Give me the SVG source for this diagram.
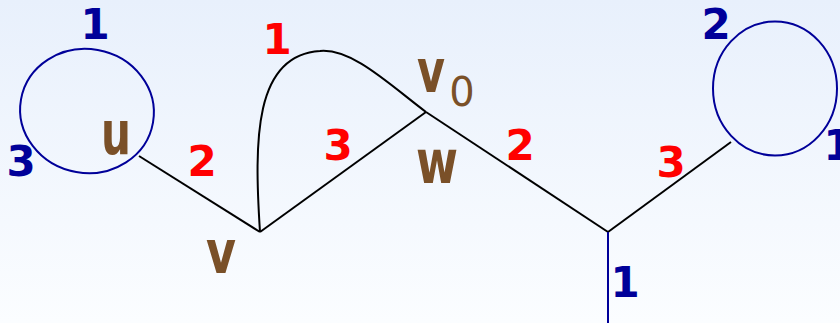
<svg xmlns="http://www.w3.org/2000/svg" width="840" height="323" viewBox="0 0 840 323">
<defs>
<linearGradient id="bg" x1="0" y1="0" x2="0" y2="1">
<stop offset="0" stop-color="#e8f0fc"/>
<stop offset="1" stop-color="#fbfdff"/>
</linearGradient>
<style>
.edge{fill:none;stroke:#000;stroke-width:2}
.loop{fill:none;stroke:#000099;stroke-width:2}
.num{font-family:"DejaVu Sans",sans-serif;font-weight:bold;font-size:42px;text-anchor:middle}
.red{fill:#ff0000}
.blue{fill:#000099}
.lbl{font-family:"DejaVu Sans",sans-serif;font-weight:bold;font-size:60px;fill:#7a5028;text-anchor:middle}
.sub{font-family:"DejaVu Sans",sans-serif;font-size:40px;fill:#7a5028;text-anchor:middle}
</style>
</defs>
<rect width="840" height="323" fill="url(#bg)"/>
<g id="connectors">
<line class="edge" x1="139" y1="156" x2="260" y2="232"/>
<line class="edge" x1="260" y1="232" x2="426" y2="112"/>
<path class="edge" d="M260,232 C254,140 254,55 320,51 C352,48 390,85 426,112"/>
<line class="edge" x1="426" y1="112" x2="608" y2="232"/>
<line class="edge" x1="608" y1="232" x2="731" y2="142"/>
<line class="loop" x1="608" y1="232" x2="608" y2="323"/>
</g>
<g id="node-u">
<ellipse class="loop" cx="87" cy="111" rx="67" ry="62" transform="rotate(10 87 111)"/>
<text class="lbl" x="116" y="154" textLength="30" lengthAdjust="spacingAndGlyphs">u</text>
<text class="num blue" x="95" y="39">1</text>
<text class="num blue" x="21" y="176">3</text>
</g>
<g id="node-v">
<text class="lbl" x="221" y="273" textLength="30" lengthAdjust="spacingAndGlyphs">v</text>
</g>
<g id="node-w">
<text class="lbl" x="431" y="92" textLength="28" lengthAdjust="spacingAndGlyphs">v</text>
<text class="sub" x="462" y="106">0</text>
<text class="lbl" x="437" y="183" textLength="42" lengthAdjust="spacingAndGlyphs">w</text>
</g>
<g id="node-x">
<ellipse class="loop" cx="775" cy="88.5" rx="62" ry="67"/>
<text class="num blue" x="716" y="39">2</text>
<text class="num blue" x="838" y="160">1</text>
<text class="num blue" x="625" y="297">1</text>
</g>
<g id="edge-labels">
<text class="num red" x="202" y="176">2</text>
<text class="num red" x="277" y="54">1</text>
<text class="num red" x="338" y="160">3</text>
<text class="num red" x="520" y="160">2</text>
<text class="num red" x="671" y="177">3</text>
</g>
</svg>
